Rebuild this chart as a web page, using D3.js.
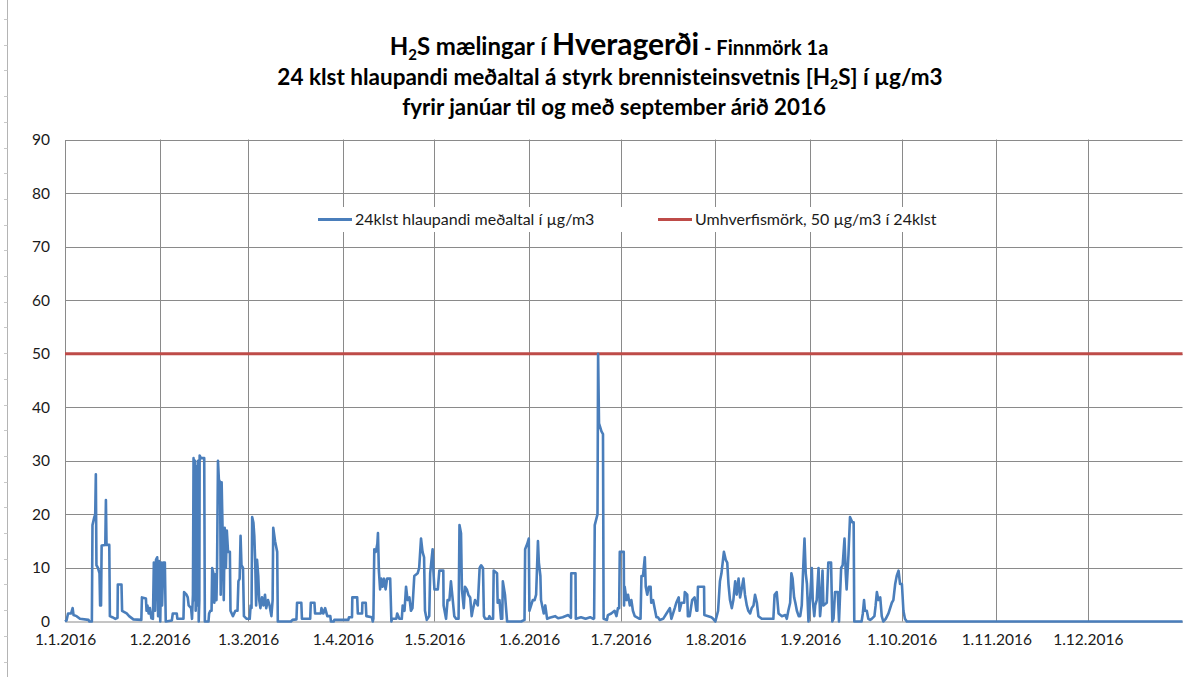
<!DOCTYPE html>
<html>
<head>
<meta charset="utf-8">
<script src="https://cdn.jsdelivr.net/npm/d3@7"></script>
<style>
body { margin: 0; background: #fff; }
svg { font-family: Lato, "Open Sans", sans-serif; }
</style>
</head>
<body>
<svg id="chart" width="1202" height="677"></svg>
<script>
// [dagar fra 1.1.2016, 24 klst hlaupandi medaltal i ug/m3] lesid af myndinni
const maelingar = [
  [0,0],[0.5,0.2],[1.0,1.5],[2.0,1.5],[2.5,2.5],[2.8,1.2],[3.8,1.0],[4.9,0.5],[7.7,0.3],[8.0,0],[8.8,0],
  [9.0,18],[9.6,19.5],[9.9,20],[10.1,27.5],[10.3,10.5],[10.8,10],[11.3,9],[11.5,3],[11.8,3],[12.0,14.2],
  [13.2,14.3],[13.4,22.7],[13.6,14.3],[14.5,14.3],[14.7,1],[15.5,0.8],[16.5,0.5],[17.2,0.7],[17.3,6.9],
  [18.5,6.9],[18.7,2],[20.2,1.5],[21,1],[22.4,0.4],[25.0,0.3],
  [25.2,4.5],[26.5,4.3],[26.7,2],[27,3],[27.4,1.5],[27.8,2.5],[28.3,0.6],[28.8,0.5],[29.1,11],[29.5,2],
  [29.8,11.5],[30.2,12],[30.5,1],[30.8,11.3],[31.2,0],[31.5,11],[31.8,3],[32.2,11],[32.7,11],[33.0,0],
  [35.0,0.2],[35.3,1.5],[36.6,1.5],[36.8,0.5],[38.8,0.5],
  [39.0,5.5],[39.8,5],[40.2,4.5],[40.5,3],[41.3,2.5],[41.6,0.5],[41.9,5],[42.1,30.5],[42.3,4],[42.6,30],
  [42.8,2],[43.1,29],[43.3,3],[43.6,30],[43.8,0],[44.0,4],[44.1,31],[44.5,30.5],[45.6,30.5],[45.8,0],
  [47.0,0],[47.2,1.5],[47.6,2],[48.0,2],[48.2,10],[48.6,9],[48.9,3.5],[49.3,8.8],[49.6,4],[49.8,10],
  [50.1,30],[50.4,26.5],[50.8,26],[51.0,5],[51.3,26],[51.6,17.5],[52.0,4],[52.3,17.5],[52.7,10],[53.0,17],
  [53.4,13],[54.0,13],[54.2,2],[55.0,1],[55.8,2],[56.5,2],[56.8,7.5],[57.2,8],[57.5,16],[57.8,10.5],
  [58.3,10],[58.6,1],[59.5,0.5],[60.5,0.5],
  [60.8,3],[61.1,2.5],[61.3,19.5],[61.7,18.5],[62.0,16],[62.3,11],[62.6,3],[62.9,11.5],[63.3,8.5],[63.6,4],
  [64.0,2.5],[64.5,4.5],[65,3],[65.5,5],[65.9,2.5],[66.5,4],[67,3],[67.6,1],[68.0,4],[68.2,17.5],[68.8,15],
  [69.5,13],[69.7,0],[74.0,0],[74.5,0.3],[75.8,0.4],[76.0,3.5],[77.4,3.5],[77.6,0.5],[80.3,0.5],[80.5,3.5],
  [81.7,3.5],[81.9,1.5],[83.8,1.5],[84.0,2.5],[84.6,1.5],[85.2,2.5],[85.9,1],[86.9,1],[87.1,0],[88.0,0],
  [88.2,0.3],[92.8,0.3],[93.0,0.8],[94.0,0.8],
  [94.1,4.5],[95.7,4.5],[95.9,1.5],[97.3,1.5],[97.4,3.5],[98.5,3.5],[98.7,1],[100.5,0.8],[100.8,0],[101.0,0.5],
  [101.3,13.5],[101.8,13],[102.3,14.5],[102.5,16.5],[102.8,9.5],[103.2,6],[103.6,8],[104,6.5],[104.5,8],
  [105,6],[105.5,8],[106.5,8],[106.9,0],[107.1,0.5],[108.5,0.5],[108.8,1.5],[109.5,0.5],[110.3,0.5],
  [110.6,3],[111.2,2],[111.7,6.5],[112.2,4],[112.8,4.5],[113.3,2],[113.8,2.5],[114.4,8.5],[115.5,9],
  [116.0,10],[116.6,15.5],[117.1,13],[117.6,12],[117.9,2],[118.5,0.3],[119.3,1],[119.6,9],[120.4,13.5],
  [120.7,9],[121.0,6],[122.1,6],[122.6,9.5],[123.9,9.5],[124.0,3],[124.8,0.5],[125.3,4],[125.9,4],
  [126.4,7.5],[127.0,4],[127.5,1],[128.1,0.5],[128.9,0.5],[129.2,18],[129.7,16.5],[130.0,6],[130.6,2.5],
  [131.0,6.5],[131.6,6],[132.1,5],[132.7,4.5],[133.2,1],[133.5,2],[134.3,4],[135.2,3],[135.8,10],
  [136.3,10.5],[136.9,10],[137.2,1],[137.6,0.5],[138.7,0.5],[139.0,1],[139.5,0.5],[140.2,0.5],[140.4,9.5],
  [141.5,9],[141.7,3.5],[142.3,4],[142.8,0.5],[143.2,0.5],[143.4,7.5],[144.1,5],[144.8,0],[149.4,0],
  [150.5,0.3],[150.7,13.5],[151.4,14.5],[151.9,15.5],[152.1,2],[153.2,4],[153.8,4],[154.3,5],[154.9,15],
  [155.2,11],[155.7,8.5],[155.9,4],[156.8,1.5],[157.3,3],[157.9,0.5],[158.7,0.7],[160.5,1],[161.5,0.6],
  [163,0.8],[164.8,1.2],[165.7,0.7],
  [165.8,9],[167.2,9],[167.3,0.5],[169,0.8],[170.5,0.5],[172,0.8],[173.0,0.5],[173.3,0.6],[173.5,18],
  [174.4,20],[174.6,50],[174.9,37],[175.7,35.5],[176.2,35],[176.4,0.5],[177.5,0.3],[177.8,1.2],[178.9,1.5],
  [180.0,2],[180.6,1],[181.1,2.5],[181.5,2.5],[181.7,13],[183.0,13],[183.1,3],[183.3,6.5],[183.9,4],
  [184.4,5],[185.0,3],[185.5,4],[186.0,2],[186.6,1],[188.2,0.5],[188.5,0.5],[188.8,8.5],[189.3,8.5],
  [189.9,12],[190.2,6.5],[190.7,5],[191.2,6.5],[191.8,6.5],[192.0,3.5],[192.6,4],[193.1,2.5],[193.7,0.8],
  [194.2,0.8],[194.8,0.3],[195.9,0.5],[197.0,1.5],[198.1,2.5],[198.6,0.5],[199.7,2.5],[200.2,3.5],
  [201.0,4.5],[201.3,2],[201.9,3.5],[202.8,3.5],[203.0,5.5],[203.8,5],[204.0,1],[204.6,1],[205.4,4],
  [206.2,4.5],[206.8,2],[207.1,2],[207.3,6.5],[209.3,6.5],[209.4,1.2],[211.7,0.8],[212.3,0.5],[213.0,0],
  [213.9,2],[214.5,7.5],[215.0,9],[215.8,13],[216.4,11.5],[216.9,11],[217.3,7],[217.8,4],[218.4,2.5],
  [218.9,4],[219.5,7.5],[220.0,5],[220.6,8],[221.1,4.5],[221.6,6],[222.2,8],[222.7,5],[223.3,3],[223.8,2],
  [224.4,1.5],[224.9,2.5],[225.5,3],[226.0,5],[226.6,3.5],[227.1,1],[228.2,0.5],[232.0,0.5],[232.4,5],
  [233.1,5.5],[233.7,1.5],[234.8,1],[235.9,1.2],[236.4,0.5],[236.9,2],[237.5,3.5],[237.9,9],[238.3,8],
  [238.8,4.5],[239.2,3.5],[239.7,2],[240.3,1],[240.8,1],[241.3,3],[241.7,9],[242.2,15.5],[242.6,9],
  [243.0,7],[243.5,0],[244.1,5],[244.6,10],[244.9,4],[245.4,1],[245.7,3],[246.2,4],[246.8,10],[247.3,1],
  [247.6,3],[248.1,9.5],[248.4,3],[249.5,3.5],[250.0,11],[250.9,11],[251.3,0],[251.7,0.5],[252.2,5.5],
  [253.1,5.5],[253.5,0],[254.2,10],[254.7,10.5],[255.3,15.5],[255.7,9],[256.0,6],[256.6,12.5],[257.1,19.5],
  [257.9,18.5],[258.3,18.5],[258.5,0],[260.9,0],[261.3,1.5],[261.7,4],[262.0,2],[262.6,2],[263.1,0.5],
  [263.7,0.3],[264.2,0.5],[265.1,1],[265.5,3],[265.9,5.5],[266.4,4],[267.0,4.5],[267.5,1],[268.0,0],
  [268.8,0.5],[269.7,1.5],[270.8,3.5],[271.3,4],[271.9,7],[272.4,8.5],[273.0,9.5],[273.5,7],[274.1,7],
  [274.6,2],[275.1,0.5],[275.7,0],[366,0]
];
const manudir = ["1.1.2016","1.2.2016","1.3.2016","1.4.2016","1.5.2016","1.6.2016",
                 "1.7.2016","1.8.2016","1.9.2016","1.10.2016","1.11.2016","1.12.2016"];
const yTicks = [0, 10, 20, 30, 40, 50, 60, 70, 80, 90];
const umhverfismork = 50;
const legendText = ["24klst hlaupandi meðaltal í µg/m3", "Umhverfismörk, 50 µg/m3 í 24klst"];

const blue = "#4a7ebb", red = "#be4b48", grid = "#8a8a8a", txt = "#1a1a1a";
const svg = d3.select("#chart");
const margin = {top: 139.5, left: 65, right: 19.5, bottom: 55.5};
const w = +svg.attr("width"), h = +svg.attr("height");

const start = Date.UTC(2016, 0, 1);
const dayToDate = d => new Date(start + d * 86400000);

const x = d3.scaleUtc()
  .domain([new Date(start), new Date(Date.UTC(2017, 0, 1))])
  .range([margin.left, w - margin.right]);
const y = d3.scaleLinear()
  .domain([0, 90])
  .range([h - margin.bottom, margin.top]);

// ytri rammi (Excel blad)
svg.append("line").attr("x1", 7.5).attr("x2", 7.5).attr("y1", 0).attr("y2", h)
  .attr("stroke", "#b4b4b4");
svg.append("g").selectAll("line").data(d3.range(19, h, 25.7)).join("line")
  .attr("x1", 4).attr("x2", 7.5)
  .attr("y1", d => Math.round(d) + 0.5).attr("y2", d => Math.round(d) + 0.5)
  .attr("stroke", "#c8c8c8");

// titill
const title = svg.append("g").attr("font-weight", "bold").attr("fill", "#000").attr("text-anchor", "middle");
const t1 = title.append("text").attr("x", 609).attr("y", 55);
t1.append("tspan").attr("font-size", 24).text("H");
t1.append("tspan").attr("font-size", 15).attr("dy", 5).text("2");
t1.append("tspan").attr("font-size", 24).attr("dy", -5).text("S mælingar í ");
t1.append("tspan").attr("font-size", 30).text("Hveragerði");
t1.append("tspan").attr("font-size", 20).text(" - Finnmörk 1a");
const t2 = title.append("text").attr("x", 610).attr("y", 85).attr("font-size", 22.5);
t2.append("tspan").text("24 klst hlaupandi meðaltal á styrk brennisteinsvetnis [H");
t2.append("tspan").attr("font-size", 14).attr("dy", 4).text("2");
t2.append("tspan").attr("dy", -4).text("S] í µg/m3");
title.append("text").attr("x", 614).attr("y", 115).attr("font-size", 22.3)
  .text("fyrir janúar til og með september árið 2016");

// gridlinur
const tickDates = manudir.map((m, i) => new Date(Date.UTC(2016, i, 1)));
svg.append("g").selectAll("line").data(yTicks.filter(d => d > 0)).join("line")
  .attr("x1", margin.left).attr("x2", w - margin.right)
  .attr("y1", d => Math.round(y(d)) + 0.5).attr("y2", d => Math.round(y(d)) + 0.5)
  .attr("stroke", grid);
svg.append("g").selectAll("line").data(tickDates.slice(1)).join("line")
  .attr("x1", d => Math.round(x(d)) + 0.5).attr("x2", d => Math.round(x(d)) + 0.5)
  .attr("y1", margin.top).attr("y2", h - margin.bottom)
  .attr("stroke", grid);

// asar
const xAxis = d3.axisBottom(x).tickValues(tickDates)
  .tickFormat((d, i) => manudir[i]).tickSize(0).tickPadding(12);
const gx = svg.append("g").attr("transform", "translate(0," + (h - margin.bottom) + ")").call(xAxis);
gx.select(".domain").attr("stroke", grid);
gx.selectAll("text").attr("font-size", 15.5).attr("fill", txt).attr("font-family", "Lato, sans-serif");

const yAxis = d3.axisLeft(y).tickValues(yTicks).tickSize(0).tickPadding(15);
const gy = svg.append("g").attr("transform", "translate(" + margin.left + ",0)").call(yAxis);
gy.select(".domain").attr("stroke", grid);
gy.selectAll("text").attr("font-size", 15.5).attr("fill", txt).attr("font-family", "Lato, sans-serif");

// skyringar (hvitur bakgrunnur yfir gridlinum)
const legend = svg.append("g");
legend.append("rect").attr("x", 302).attr("y", 207).attr("width", 660).attr("height", 25).attr("fill", "#fff");
const items = [{c: blue, x: 318}, {c: red, x: 658}];
items.forEach((it, i) => {
  legend.append("line").attr("x1", it.x).attr("x2", it.x + 34).attr("y1", 219.5).attr("y2", 219.5)
    .attr("stroke", it.c).attr("stroke-width", 3);
  legend.append("text").attr("x", it.x + 37).attr("y", 225).attr("font-size", 16)
    .attr("fill", txt).text(legendText[i]);
});

// umhverfismork
svg.append("line")
  .attr("x1", margin.left).attr("x2", w - margin.right)
  .attr("y1", y(umhverfismork)).attr("y2", y(umhverfismork))
  .attr("stroke", red).attr("stroke-width", 3);

// maelingar
const line = d3.line()
  .x(d => x(dayToDate(d[0])))
  .y(d => y(d[1]));
svg.append("path").datum(maelingar)
  .attr("d", line)
  .attr("fill", "none")
  .attr("stroke", blue)
  .attr("stroke-width", 2.6)
  .attr("stroke-linejoin", "round");
</script>
</body>
</html>
